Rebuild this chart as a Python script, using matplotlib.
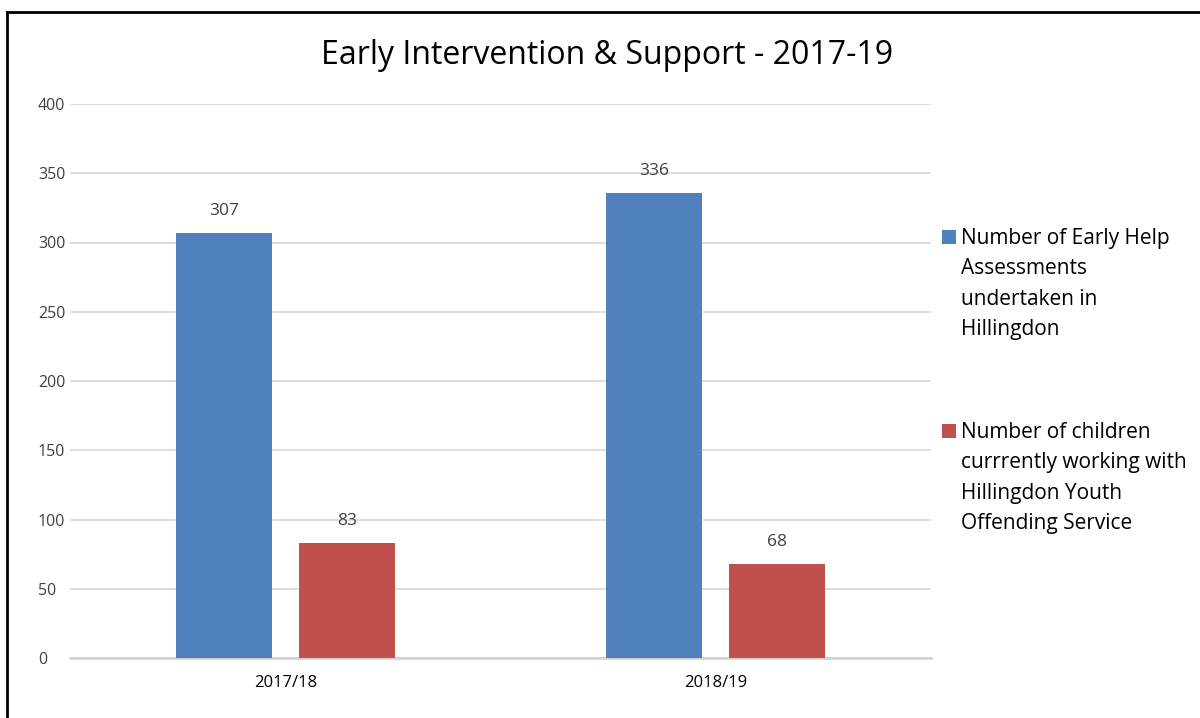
import matplotlib
matplotlib.use("Agg")
import matplotlib.pyplot as plt
import numpy as np
from matplotlib.patches import Rectangle
from matplotlib.lines import Line2D

categories = ["2017/18", "2018/19"]
series_names = ["Number of Early Help\nAssessments\nundertaken in\nHillingdon",
                "Number of children\ncurrrently working with\nHillingdon Youth\nOffending Service"]
assessments = [307, 336]
yos_children = [83, 68]
title = "Early Intervention & Support - 2017-19"
yticks = [0, 50, 100, 150, 200, 250, 300, 350, 400]

plt.rcParams['font.family'] = ['Open Sans', 'DejaVu Sans']

W, H = 1200, 718
fig = plt.figure(figsize=(12, 7.18), dpi=100)
ax = fig.add_axes([70/W, 1-658/H, (931-70)/W, (658-104)/H])

x = np.arange(len(categories))
w = 0.223
off = 0.143
colors = ["#4F81BD", "#C0504D"]
b1 = ax.bar(x - off, assessments, w, color=colors[0], zorder=3)
b2 = ax.bar(x + off, yos_children, w, color=colors[1], zorder=3)
for bars in (b1, b2):
    for r in bars:
        ax.annotate(f"{int(r.get_height())}", (r.get_x() + r.get_width()/2, r.get_height()),
                    xytext=(0, 10), textcoords="offset points", ha="center", va="bottom",
                    fontsize=12.5, color="#404040")

ax.set_xlim(-0.5, 1.5)
ax.set_ylim(0, 400)
ax.set_yticks(yticks)
ax.set_xticks(x)
ax.set_xticklabels(categories)
ax.grid(axis="y", color="#d9d9d9", linewidth=1.2, zorder=0)
for s in ["top", "right", "left"]:
    ax.spines[s].set_visible(False)
ax.spines["bottom"].set_color("#d0d0d0")
ax.spines["bottom"].set_linewidth(1.8)
ax.tick_params(axis="both", length=0, colors="#404040")
ax.tick_params(axis="y", labelsize=11.5, pad=0)
ax.tick_params(axis="x", labelsize=12, pad=12)
for lbl in ax.get_xticklabels():
    lbl.set_color("#000000")
for lbl in ax.get_yticklabels():
    lbl.set_horizontalalignment("left")
    lbl.set_transform(ax.get_yaxis_transform() + matplotlib.transforms.ScaledTranslation(-(70-38)/100, 0, fig.dpi_scale_trans))

fig.text(607/W, 1-55/H, title, ha="center", va="center", fontsize=23, color="#000000")

# legend drawn manually so the marker aligns with the first line
entry_tops = [228, 422]
for name, col, top in zip(series_names, colors, entry_tops):
    fig.add_artist(Rectangle((942/W, 1-(top+16)/H), 14/W, 14/H, transform=fig.transFigure,
                             facecolor=col, edgecolor="none"))
    fig.text(961/W, 1-top/H, name, ha="left", va="top", fontsize=15, color="#000000",
             linespacing=1.58)

# outer frame (left and top visible)
fig.add_artist(Line2D([7/W, 7/W], [0, 1-12/H], transform=fig.transFigure, color="black", lw=2))
fig.add_artist(Line2D([7/W, 1], [1-12/H, 1-12/H], transform=fig.transFigure, color="black", lw=2))

fig.savefig("out.png", dpi=100)
